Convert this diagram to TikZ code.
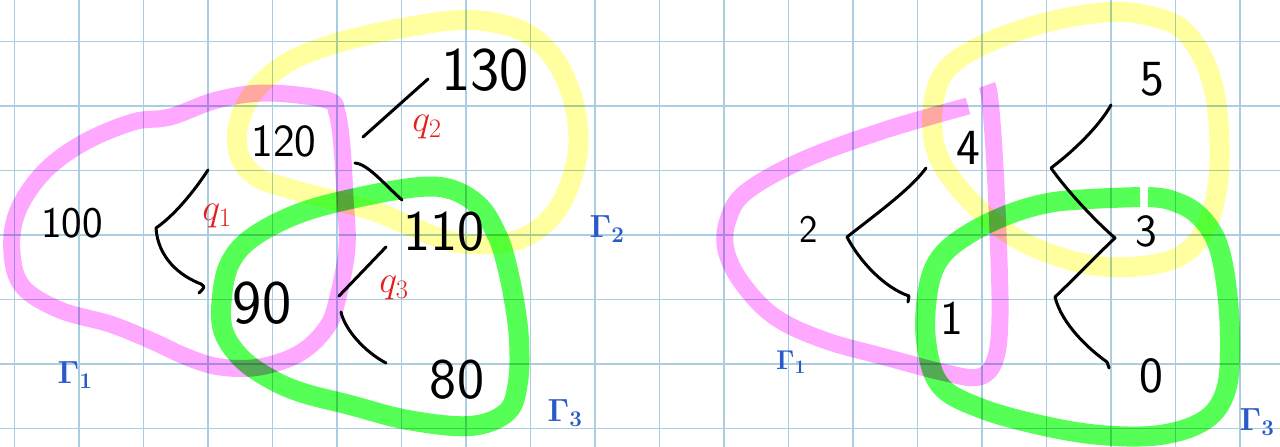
\RequirePackage{fix-cm}
\documentclass[tikz,border=0pt]{standalone}
\usepackage{fontspec}
\usepackage{amsmath}
\usepackage{tikz}
\usetikzlibrary{positioning}
\definecolor{grille}{RGB}{170,205,226}
\definecolor{rose}{RGB}{255,168,255}
\definecolor{jaune}{RGB}{255,255,160}
\definecolor{vert}{RGB}{85,255,85}
\definecolor{rouge}{RGB}{230,30,30}
\definecolor{bleu}{RGB}{40,90,200}

\tikzset{
  pen/.style={line width=3pt,line cap=round,line join=round},
  surligne/.style={line width=19pt,line join=round,blend mode=multiply},
  prix/.style={font=\fontsize{46}{46}\selectfont\sffamily,inner sep=0pt},
  proba/.style={text=rouge,font=\fontsize{38}{38}\selectfont,inner sep=0pt},
  region/.style={text=bleu,font=\fontsize{32}{32}\selectfont\boldmath,inner sep=0pt},
}

\begin{document}
\begin{tikzpicture}[x=1pt,y=-1pt]
      \useasboundingbox (0,0) rectangle (1280,447);
      \fill[white](0,0) rectangle (1280,447);
      % papier quadrille
      \foreach \k in {0,...,19}{
        \draw[grille,line width=1.6pt](14.3+64.5*\k,0)--(14.3+64.5*\k,447);}
      \foreach \k in {0,...,6}{
        \draw[grille,line width=1.6pt](0,41.5+64.5*\k)--(1280,41.5+64.5*\k);}
      % arbre de gauche : surligneurs
      \draw[surligne,rose,line width=17pt] plot[smooth cycle,tension=0.6] coordinates {
        (327,100) (267,93) (217,100) (170,117) (133,122) (83,143) (43,173)
        (17,213) (12,253) (23,287) (60,310) (110,324) (150,340) (187,357)
        (220,367) (260,367) (300,353) (327,327) (338,297) (347,247)
        (345,197) (342,147) (337,113)};
      \draw[surligne,jaune,line width=20pt] plot[smooth cycle,tension=0.6] coordinates {
        (467,20) (520,30) (553,57) (573,100) (578,150) (563,200) (537,230)
        (503,243) (453,242) (410,226) (370,210) (287,188) (257,177)
        (240,157) (238,127) (253,93) (287,63) (337,43) (402,28)};
      \draw[surligne,vert,line width=20pt] plot[smooth cycle,tension=0.6] coordinates {
        (420,187) (453,190) (480,207) (497,235) (506,262) (514,300)
        (519,340) (518,382) (507,412) (470,426) (408,420) (350,405)
        (300,392) (267,377) (240,357) (223,330) (222,297) (230,263)
        (253,237) (300,213) (360,197)};
      % arbre de droite : surligneurs
      \draw[surligne,rose,line width=17pt] plot[smooth,tension=0.6] coordinates {
        (968,106) (885,130) (803,160) (746,192) (728,220) (726,250)
        (742,283) (775,317) (824,340) (885,357) (946,373) (979,377)
        (995,360) (1000,317) (998,233) (994,150) (990,100) (987,85)};
      \draw[surligne,jaune,line width=20pt] plot[smooth cycle,tension=0.6] coordinates {
        (1109,12) (1150,16) (1183,30) (1207,67) (1218,117) (1218,183)
        (1203,233) (1171,260) (1109,267) (1048,253) (999,227) (958,187)
        (936,150) (933,107) (946,70) (987,43) (1048,22)};
      \draw[surligne,vert,line width=20pt] plot[smooth,tension=0.6] coordinates {
        (1140,197) (1090,199) (1048,203) (1007,215) (967,235) (940,258)
        (928,290) (926,340) (940,385) (980,408) (1040,425) (1100,435)
        (1160,435) (1205,420) (1226,390) (1230,340) (1226,283)
        (1216,240) (1196,213) (1170,200) (1148,197)};
      % prix de l'arbre de gauche
      \node[prix,scale=0.95] (p100) at (72,223) {100};
      \node[prix] (p120) at (284,141) {120};
      \node[prix,scale=1.35] (p130) at (485,70) {130};
      \node[prix,scale=1.25] (p110) at (444,232) {110};
      \node[prix,scale=1.35] (p90) at (262,303) {90};
      \node[prix,scale=1.25] (p80) at (457,380) {80};
      % etats de l'arbre de droite
      \node[prix,scale=0.85] (e2) at (809,229) {2};
      \node[prix,scale=1.1] (e4) at (968,148) {4};
      \node[prix,scale=1.05] (e1) at (952,318) {1};
      \node[prix,scale=1.1] (e5) at (1152,79) {5};
      \node[prix] (e3) at (1146,231) {3};
      \node[prix,scale=1.1] (e0) at (1151,376) {0};
      % branches de gauche
      \coordinate (h100) at (208,170);
      \coordinate (b100) at (156,228);
      \coordinate (l100) at (199,293);
      \coordinate (h120) at (363,137);
      \coordinate (t130) at (428,79);
      \coordinate (b120) at (355,163);
      \coordinate (t110) at (402,200);
      \coordinate (h90) at (386,247);
      \coordinate (a90) at (339,296);
      \coordinate (b90) at (341,312);
      \coordinate (t80) at (386,363);
      \draw[pen](h100) .. controls (195,190) and (175,215) .. (b100)
        .. controls (158,258) and (180,276) .. (201,284)
        .. controls (205,287) .. (l100);
      \draw[pen](h120)--(t130);
      \draw[pen](b120) .. controls (368,164) and (385,185) .. (t110);
      \draw[pen](h90)--(a90);
      \draw[pen](b90) .. controls (345,330) and (365,352) .. (t80);
      % branches de droite
      \coordinate (h4) at (926,168);
      \coordinate (a2) at (847,237);
      \coordinate (l1) at (908,302);
      \coordinate (h5) at (1111,105);
      \coordinate (a4) at (1051,168);
      \coordinate (m3) at (1115,238);
      \coordinate (a1) at (1055,297);
      \coordinate (l0) at (1109,368);
      \draw[pen](h4) .. controls (912,188) and (875,215) .. (a2)
        .. controls (860,262) and (885,288) .. (909,296) -- (l1);
      \draw[pen](h5) .. controls (1100,125) and (1075,150) .. (a4)
        .. controls (1065,188) and (1092,218) .. (m3)
        .. controls (1100,252) and (1075,278) .. (a1)
        .. controls (1062,325) and (1090,350) .. (1107,362) -- (l0);
      % probabilites
      \node[proba] (q1) at (217,216) {$q_1$};
      \node[proba] (q2) at (427,127) {$q_2$};
      \node[proba] (q3) at (394,288) {$q_3$};
      % regions
      \node[region] (G1) at (75,375) {$\Gamma_1$};
      \node[region] (G2) at (607,229) {$\Gamma_2$};
      \node[region] (G3) at (565,413) {$\Gamma_3$};
      \node[region,scale=0.85] (D1) at (791,362) {$\Gamma_1$};
      \node[region] (D3) at (1257,422) {$\Gamma_3$};
    \end{tikzpicture}
\end{document}
